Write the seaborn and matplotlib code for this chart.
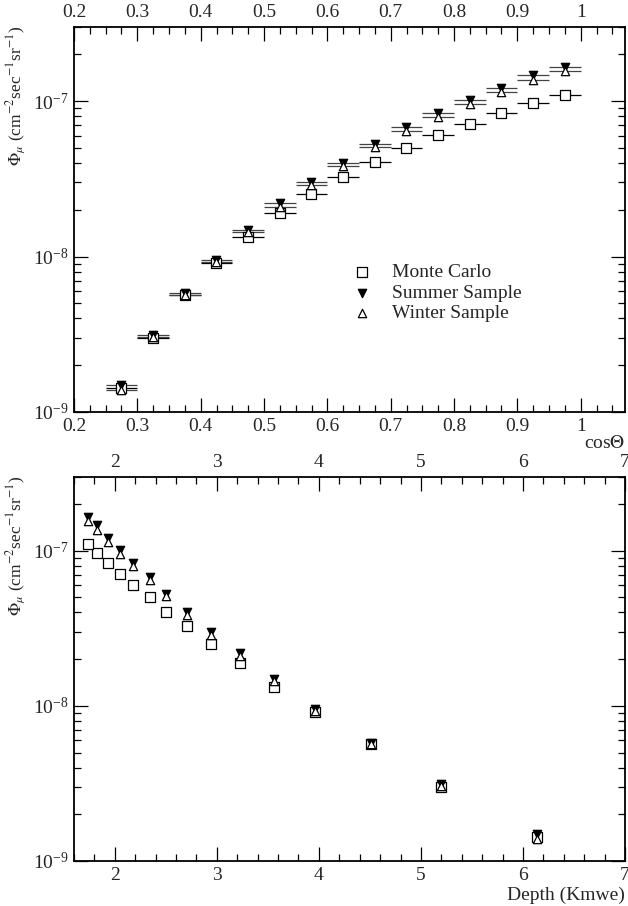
import numpy as np
import pandas as pd
import seaborn as sns
import matplotlib.pyplot as plt
from matplotlib.ticker import MultipleLocator, LogLocator, NullFormatter

# muon flux vs zenith angle (top) and vs slant depth (bottom)
cos_theta = [0.275, 0.325, 0.375, 0.425, 0.475, 0.525, 0.575, 0.625,
             0.675, 0.725, 0.775, 0.825, 0.875, 0.925, 0.975]
cos_halfwidth = 0.025
depth = [6.14, 5.20, 4.51, 3.966, 3.558, 3.223, 2.942, 2.711,
         2.506, 2.34, 2.18, 2.05, 1.93, 1.828, 1.74]

flux_mc = [1.42e-9, 3.01e-9, 5.65e-9, 9.12e-9, 1.33e-8, 1.90e-8, 2.52e-8, 3.26e-8,
           4.03e-8, 5.01e-8, 6.02e-8, 7.11e-8, 8.33e-8, 9.66e-8, 1.10e-7]
flux_summer = [1.49e-9, 3.13e-9, 5.80e-9, 9.50e-9, 1.48e-8, 2.20e-8, 3.01e-8, 4.01e-8,
               5.29e-8, 6.77e-8, 8.33e-8, 1.015e-7, 1.21e-7, 1.47e-7, 1.66e-7]
flux_winter = [1.38e-9, 3.05e-9, 5.65e-9, 9.26e-9, 1.44e-8, 2.09e-8, 2.88e-8, 3.84e-8,
               5.08e-8, 6.44e-8, 7.93e-8, 9.56e-8, 1.14e-7, 1.36e-7, 1.56e-7]

data = pd.DataFrame({"cos": cos_theta, "depth": depth, "mc": flux_mc,
                     "summer": flux_summer, "winter": flux_winter})

sns.set_theme(style="ticks")
plt.rcParams["font.family"] = ["Liberation Serif", "DejaVu Serif"]
plt.rcParams["mathtext.fontset"] = "stix"
plt.rcParams["font.size"] = 14

fig = plt.figure(figsize=(6.28, 9.06), dpi=100)
ax1 = fig.add_axes([74 / 628, 1 - 412 / 906, 551 / 628, 385 / 906])
ax2 = fig.add_axes([74 / 628, 1 - 861 / 906, 551 / 628, 384.3 / 906])

series = [("mc", "Monte Carlo", "s", "white", 50),
          ("summer", "Summer Sample", "v", "black", 36),
          ("winter", "Winter Sample", "^", "white", 36)]
draw_order = [0, 2, 1]

# top panel: horizontal bin-width bars
ax1.errorbar(data["cos"], data["mc"], xerr=cos_halfwidth, fmt="none",
             ecolor="black", elinewidth=0.9, zorder=1)
ax1.errorbar(data["cos"], data["summer"], xerr=cos_halfwidth, fmt="none",
             ecolor="#444444", elinewidth=0.9, zorder=1)
ax1.errorbar(data["cos"], data["winter"], xerr=cos_halfwidth, fmt="none",
             ecolor="#444444", elinewidth=0.9, zorder=1)

for i in draw_order:
    col, lab, mk, fc, s = series[i]
    sns.scatterplot(x="cos", y=col, data=data, marker=mk, color=fc, edgecolor="black",
                    linewidth=0.9, s=s, label=lab, ax=ax1, zorder=3 + i)
    sns.scatterplot(x="depth", y=col, data=data, marker=mk, color=fc, edgecolor="black",
                    linewidth=0.9, s=s, ax=ax2, zorder=3 + i, legend=False)

handles, labels = ax1.get_legend_handles_labels()
order = [labels.index(l) for l in ["Monte Carlo", "Summer Sample", "Winter Sample"]]
ax1.legend([handles[k] for k in order], [labels[k] for k in order],
           loc="upper left", bbox_to_anchor=(0.505, 0.385), frameon=False,
           borderpad=0, borderaxespad=0, handlelength=1.0, handletextpad=1.05,
           labelspacing=0.15, fontsize=14)

for ax in (ax1, ax2):
    ax.set_yscale("log")
    ax.set_ylim(1e-9, 3e-7)
    ax.yaxis.set_major_locator(LogLocator(base=10, numticks=10))
    ax.yaxis.set_minor_locator(LogLocator(base=10, subs=np.arange(2, 10), numticks=20))
    ax.yaxis.set_minor_formatter(NullFormatter())
    ax.tick_params(which="both", direction="in", top=True, right=True,
                   labeltop=True, labelsize=14, width=0.9, color="black", pad=4)
    ax.tick_params(which="major", length=10)
    ax.tick_params(which="minor", length=5)
    for sp in ax.spines.values():
        sp.set_linewidth(1.3)
        sp.set_color("black")
    ax.set_ylabel(r"$\Phi_\mu$ (cm$^{-2}$sec$^{-1}$sr$^{-1}$)", fontsize=12.5)
    ax.yaxis.set_label_coords(-0.083, 0.82)

ax1.set_xlim(0.2, 1.07)
ax1.xaxis.set_minor_locator(MultipleLocator(0.025))
ax1.set_xticks([0.2, 0.3, 0.4, 0.5, 0.6, 0.7, 0.8, 0.9, 1.0])
ax1.set_xticklabels(["0.2", "0.3", "0.4", "0.5", "0.6", "0.7", "0.8", "0.9", "1"])
ax1.set_xlabel(r"cos$\Theta$", loc="right", fontsize=14)
ax1.xaxis.set_label_coords(1.0, -0.06)

ax2.set_xlim(1.6, 7)
ax2.set_xticks([2, 3, 4, 5, 6, 7])
ax2.xaxis.set_minor_locator(MultipleLocator(0.2))
ax2.set_xlabel("Depth (Kmwe)", loc="right", fontsize=14)
ax2.xaxis.set_label_coords(1.0, -0.066)

fig.savefig("out.png", dpi=100)
